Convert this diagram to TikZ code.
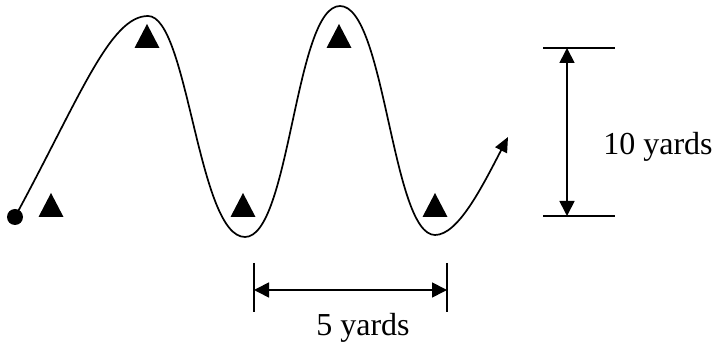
\documentclass[tikz,border=0pt]{standalone}
\usepackage{fontspec}
\setmainfont{Liberation Serif}
\usetikzlibrary{arrows.meta, positioning}
\tikzset{
    route/.style={line width=1.7pt, -{Triangle[length=15pt,width=13pt]}},
    dimarrow/.style={line width=1.7pt, {Triangle[length=15pt,width=15pt]}-{Triangle[length=15pt,width=15pt]}},
    dimbar/.style={line width=1.7pt}
}
\begin{document}
\begin{tikzpicture}[x=1pt, y=1pt,
    dimlabel/.style={font=\fontsize{32}{38}\selectfont, inner sep=0pt, anchor=base}]
    \useasboundingbox (0,0) rectangle (714,347);

    % path of the runner
    \coordinate (start)   at (15,130);
    \coordinate (peakA)   at (148,331);
    \coordinate (troughA) at (245,110);
    \coordinate (peakB)   at (340,341);
    \coordinate (troughB) at (435,112);
    \coordinate (finish)  at (508,210);

    \fill (start) circle (8);
    \draw [route] (start) .. controls (80,250) and (110,331) .. (peakA)
        .. controls (188,331) and (198,110) .. (troughA)
        .. controls (290,110) and (295,341) .. (peakB)
        .. controls (385,341) and (392,112) .. (troughB)
        .. controls (458,112) and (482,160) .. (finish);

    % cones
    \foreach \cx/\cy in {51/130, 147/299, 243/130, 339/299, 435/130}
        \fill (\cx-12.5,\cy) -- (\cx+12.5,\cy) -- (\cx,\cy+24) -- cycle;

    % 10 yards
    \coordinate (topL) at (543,299);
    \coordinate (topR) at (615,299);
    \coordinate (botL) at (543,131);
    \coordinate (botR) at (615,131);
    \coordinate (vtop) at (567,299);
    \coordinate (vbot) at (567,131);
    \draw [dimbar] (topL) -- (topR);
    \draw [dimbar] (botL) -- (botR);
    \draw [dimarrow] (vtop) -- (vbot);
    \node (tenyd) [dimlabel] at (658,192) {10 yards};

    % 5 yards
    \coordinate (leftT)  at (254,84);
    \coordinate (leftB)  at (254,35);
    \coordinate (rightT) at (447,84);
    \coordinate (rightB) at (447,35);
    \coordinate (hleft)  at (254,57);
    \coordinate (hright) at (447,57);
    \draw [dimbar] (leftT) -- (leftB);
    \draw [dimbar] (rightT) -- (rightB);
    \draw [dimarrow] (hleft) -- (hright);
    \node (fiveyd) [dimlabel] at (363,11) {5 yards};
\end{tikzpicture}
\end{document}
